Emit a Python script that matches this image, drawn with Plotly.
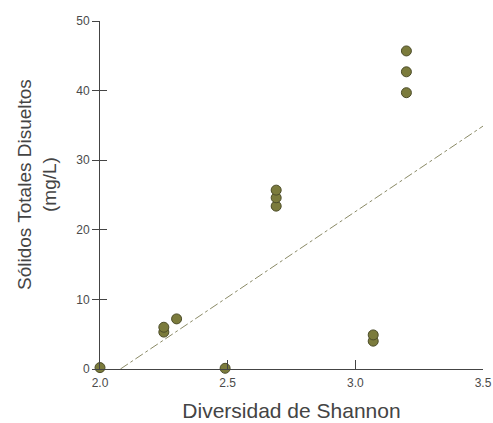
import plotly.graph_objects as go

shannon = [2.0, 2.25, 2.25, 2.30, 2.49, 2.69, 2.69, 2.69, 3.07, 3.07, 3.20, 3.20, 3.20]
tds = [0.2, 5.3, 6.0, 7.2, 0.1, 23.4, 24.6, 25.7, 4.0, 4.9, 39.7, 42.7, 45.7]
trend_x = [2.08, 3.5]
trend_y = [0.0, 34.9]
x_ticks = [2.0, 2.5, 3.0, 3.5]
x_tick_labels = ["2.0", "2.5", "3.0", "3.5"]
y_ticks = [0, 10, 20, 30, 40, 50]
x_title = "Diversidad de Shannon"
y_title = "Sólidos Totales Disueltos<br>(mg/L)"

fig = go.Figure()
fig.add_trace(go.Scatter(
    x=trend_x, y=trend_y, mode="lines",
    line=dict(color="#8a8a66", width=1, dash="dashdot"),
    hoverinfo="skip", showlegend=False,
))
fig.add_trace(go.Scatter(
    x=shannon, y=tds, mode="markers",
    marker=dict(size=10, color="#7b7b3c", line=dict(color="#4d4d2a", width=1)),
    cliponaxis=False, showlegend=False,
))
fig.add_trace(go.Scatter(
    x=shannon[:1], y=tds[:1], yaxis="y2", mode="markers",
    marker=dict(size=1, opacity=0), hoverinfo="skip", showlegend=False,
))

axis_font = dict(family="Liberation Sans, Arial, sans-serif", size=12, color="#4a4a4a")
xtitle_font = dict(family="Liberation Sans, Arial, sans-serif", size=21, color="#444444")
ytitle_font = dict(family="Liberation Sans, Arial, sans-serif", size=19, color="#444444")

fig.update_layout(
    width=493, height=423,
    margin=dict(l=100, r=10, t=21, b=54),
    paper_bgcolor="white", plot_bgcolor="white",
    xaxis=dict(
        range=[2.0, 3.5], tickvals=x_ticks, ticktext=x_tick_labels,
        showgrid=False, zeroline=False, showline=True, linecolor="#444444", linewidth=1,
        ticks="inside", ticklen=9, tickcolor="#444444",
        tickfont=axis_font, ticklabelstandoff=3, automargin=False,
        title=dict(text=x_title, font=xtitle_font, standoff=13),
    ),
    yaxis=dict(
        range=[0, 50], tickvals=y_ticks,
        showgrid=False, zeroline=False, showline=True, linecolor="#444444", linewidth=1,
        ticks="outside", ticklen=7, tickcolor="#444444",
        tickfont=axis_font, automargin=False,
    ),
    yaxis2=dict(
        range=[0, 50], tickvals=y_ticks, overlaying="y", side="left",
        showgrid=False, zeroline=False, showline=False, automargin=False,
        ticks="inside", ticklen=7, tickcolor="#444444", showticklabels=False,
    ),
    annotations=[dict(
        text=y_title, xref="paper", yref="paper", x=0, y=0.5,
        xanchor="center", yanchor="middle", xshift=-63, yshift=10,
        textangle=-90, showarrow=False, font=ytitle_font,
    )],
)

fig.write_html(
    "out.html",
    config={"displayModeBar": False},
    post_script="document.body.style.margin='0';document.body.style.overflow='hidden';",
)
